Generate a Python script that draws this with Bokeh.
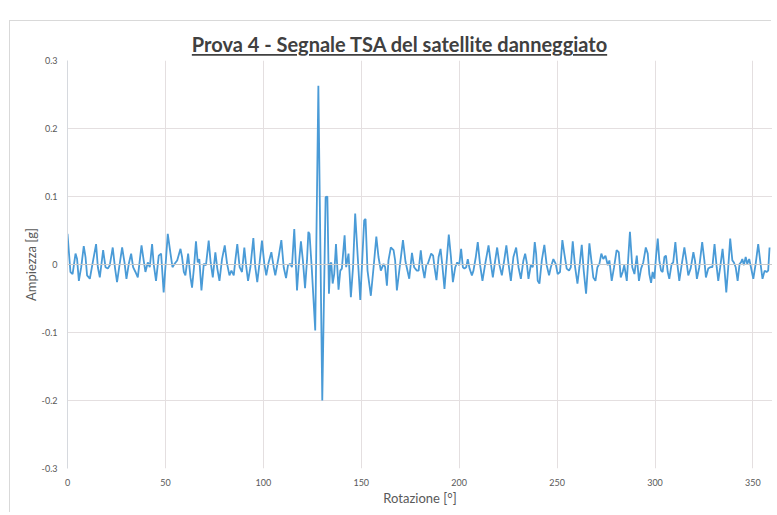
from bokeh.plotting import figure
from bokeh.models import Range1d, FixedTicker, Span, Div
from bokeh.layouts import column
from bokeh.embed import file_html
from bokeh.resources import INLINE

title_text = "Prova 4 - Segnale TSA del satellite danneggiato"
x_label = "Rotazione [°]"
y_label = "Ampiezza [g]"

x_ticks = [0, 50, 100, 150, 200, 250, 300, 350]
x_tick_labels = ["0", "50", "100", "150", "200", "250", "300", "350"]
y_ticks = [-0.3, -0.2, -0.1, 0.0, 0.1, 0.2, 0.3]
y_tick_labels = ["-0.3", "-0.2", "-0.1", "0", "0.1", "0.2", "0.3"]

rotation_deg = [
    0.0, 1.5, 2.6, 4.1, 4.9, 5.8, 7.0, 8.3, 9.2, 10.0, 11.4, 12.9, 14.6, 15.5, 16.5, 18.2, 19.4, 20.6, 21.6, 23.1,
    24.3, 25.3, 26.4, 27.9, 29.1, 30.1, 31.3, 32.5, 33.5, 34.7, 35.9, 37.8, 38.9, 39.8, 41.0, 42.0, 43.2, 44.0, 45.2, 46.6,
    47.8, 49.1, 51.2, 52.6, 53.6, 54.7, 56.0,
    57.7, 58.5, 59.4, 60.2, 61.6, 62.8, 63.6, 64.6, 65.6, 66.5, 67.3, 68.4, 69.6, 70.7, 72.1, 73.1, 74.2, 75.5, 76.5, 77.6,
    78.9, 80.3, 81.5, 82.7, 83.7, 84.9, 85.7, 86.7, 87.9, 89.1, 90.3, 91.3, 92.2, 93.4, 94.9, 95.9, 96.9, 98.1, 99.3, 100.5,
    101.5, 102.7, 104.1, 105.3, 106.1, 107.8, 109.2, 110.4, 111.6, 112.6, 113.8, 114.6, 115.8,
    117.2, 118.0, 119.2, 120.2, 121.3, 122.3, 123.0, 123.6, 124.8, 126.5, 128.1, 130.1, 131.8, 132.7, 133.5, 134.2, 134.7,
    135.4, 136.2, 137.1, 138.4, 139.3, 140.1, 141.5, 142.3, 143.5, 144.7, 145.8, 146.9, 149.5, 151.5, 152.2, 153.2, 154.9,
    156.3, 157.7, 158.8, 160.0, 161.4, 162.2, 163.1, 163.9, 165.1, 166.5, 167.3, 168.2,
    169.8, 171.3, 172.6, 174.5, 175.9, 177.0, 178.4, 179.3, 180.4, 181.3, 182.3, 183.2, 184.0, 185.7, 186.7, 187.4, 188.4,
    189.5, 190.5, 191.5, 192.5, 193.5, 194.7, 195.8, 196.8, 198.0, 199.0, 200.0, 201.0, 201.9, 202.7, 203.6, 204.4, 205.3,
    206.5, 207.3, 208.5, 209.5, 210.7, 211.9, 213.3, 215.0, 216.2, 217.2, 218.4, 219.4, 220.6, 221.8, 223.0, 224.1, 225.2,
    226.4, 227.7, 229.1, 230.3, 231.5, 232.8,
    233.7, 234.5, 235.4, 236.6, 237.6, 238.6, 239.3, 240.1, 241.0, 242.2, 243.5, 244.7, 245.9, 246.8, 248.1, 249.3, 250.3,
    251.5, 252.7, 253.7, 254.9, 256.1, 257.0, 258.0, 259.2, 260.4, 261.4, 262.6, 263.6, 264.8, 265.7, 266.5, 267.5, 268.5,
    269.6, 270.6, 271.6, 272.6, 273.6, 274.7, 275.9, 276.7, 277.9, 279.1, 280.4, 281.5, 282.5, 283.5, 284.3, 285.6, 287.2,
    288.4, 289.5, 290.7, 291.8,
    292.9, 294.0, 295.3, 296.3, 297.1, 298.0, 298.8, 299.7, 300.5, 301.4, 302.2, 303.1, 303.9, 304.8, 305.6, 306.5, 307.3,
    308.5, 309.3, 310.4, 311.4, 312.4, 313.6, 315.0, 316.0, 317.0, 318.2, 319.6, 320.4, 321.4, 322.6, 324.1, 325.2, 326.0,
    327.2, 328.2, 329.3, 330.4, 331.5, 332.3, 333.3, 334.5, 335.4, 336.4, 337.4, 338.4, 339.5, 340.3, 341.2, 342.2, 343.2,
    343.9, 344.6, 345.4, 346.3, 347.1, 348.1, 349.0, 350.2, 351.4, 352.7, 353.9, 354.9, 356.0, 357.0, 357.8, 358.5,
]

amplitude_g = [
    0.045, -0.011, -0.014, 0.016, 0.008, -0.024, -0.004, 0.027, 0.011, -0.016, -0.021, 0.003, 0.030, -0.004, -0.019, 0.021, -0.004, -0.006, -0.001, 0.025,
    -0.006, -0.026, -0.004, 0.025, 0.003, -0.021, 0.001, 0.016, -0.004, -0.011, -0.019, 0.028, 0.006, -0.011, 0.003, -0.004, 0.030, 0.001, -0.024, 0.013,
    0.016, -0.041, 0.045, 0.016, -0.004, 0.001, 0.006,
    0.023, 0.011, -0.011, -0.016, 0.016, -0.019, -0.034, -0.004, 0.034, 0.003, 0.008, -0.038, 0.001, -0.001, 0.035, 0.003, -0.019, 0.018, -0.006, -0.024,
    0.008, 0.028, 0.001, -0.016, -0.009, -0.016, 0.006, 0.030, -0.004, -0.011, 0.025, -0.004, -0.024, -0.004, 0.039, -0.004, -0.026, 0.003, 0.035, 0.001,
    -0.016, 0.003, 0.018, -0.004, -0.016, 0.011, 0.036, -0.004, -0.020, -0.001, 0.001, -0.004, 0.052,
    -0.038, -0.004, 0.034, 0.006, -0.035, 0.006, 0.048, 0.045, -0.009, -0.097, 0.263, -0.200, 0.099, 0.100, -0.043, 0.001, 0.003,
    -0.028, -0.014, 0.030, -0.037, -0.009, -0.006, 0.043, -0.004, 0.016, -0.048, -0.004, 0.075, -0.052, 0.065, 0.067, -0.009, -0.046,
    -0.004, 0.041, 0.011, -0.009, 0.001, -0.004, -0.031, 0.006, 0.025, 0.021, 0.006, -0.038,
    0.000, 0.036, 0.004, -0.021, 0.017, -0.004, -0.009, -0.009, 0.021, -0.004, -0.020, -0.001, 0.001, 0.016, 0.013, -0.004, -0.023,
    0.011, 0.023, -0.004, -0.036, 0.001, 0.044, 0.011, -0.026, -0.004, 0.003, -0.001, 0.023, -0.004, -0.006, -0.004, 0.008, -0.006,
    -0.016, -0.009, 0.011, 0.033, -0.001, -0.024, 0.001, 0.028, 0.001, -0.019, 0.006, 0.025, -0.001, -0.016, 0.006, 0.028, 0.001,
    -0.024, 0.011, 0.025, -0.004, -0.021, 0.006,
    0.016, 0.003, -0.021, -0.001, -0.004, 0.033, 0.016, -0.024, -0.028, 0.006, 0.029, -0.001, -0.016, -0.004, 0.008, 0.001, -0.014,
    -0.011, 0.036, 0.016, -0.006, -0.009, -0.004, 0.034, -0.004, -0.028, -0.004, 0.029, -0.009, -0.043, -0.004, 0.031, 0.006, -0.019,
    -0.024, -0.004, 0.001, 0.016, 0.008, 0.013, -0.001, 0.006, -0.024, -0.004, 0.021, 0.018, -0.019, -0.011, -0.001, -0.024, 0.048,
    -0.004, -0.014, 0.013, -0.024,
    -0.006, 0.003, 0.025, 0.016, -0.014, -0.027, -0.011, -0.021, 0.011, 0.038, 0.006, -0.009, -0.011, 0.011, 0.013, -0.011, -0.021,
    0.001, 0.003, 0.033, 0.001, -0.024, -0.001, 0.025, 0.006, -0.016, -0.006, 0.018, 0.006, -0.021, -0.004, 0.033, 0.006, -0.019,
    -0.006, -0.004, -0.004, 0.030, -0.004, -0.024, -0.004, 0.023, -0.004, -0.041, -0.004, 0.038, 0.006, 0.003, -0.004, -0.024, 0.001,
    0.003, 0.008, -0.001, 0.011, 0.001, 0.008, -0.004, -0.021, 0.001, 0.030, 0.001, -0.021, -0.009, -0.011, -0.009, 0.025,
]

x_min, x_max = 0, 360
y_min, y_max = -0.3, 0.3
zero_level = 0.0

TEXT_GREY = "#595959"
GRID = "#e4dfe0"
FONT = "Lato"

p = figure(
    width=762, height=458,
    output_backend="svg", toolbar_location=None,
    x_range=Range1d(x_min, x_max), y_range=Range1d(y_min, y_max),
    min_border_left=57, min_border_right=0, min_border_top=5, min_border_bottom=45,
    styles={"overflow": "hidden"},
)
p.outline_line_color = None
p.background_fill_color = "white"
p.border_fill_color = "white"

xt = FixedTicker(ticks=x_ticks)
yt = FixedTicker(ticks=y_ticks)
p.xaxis.ticker = xt
p.yaxis.ticker = yt
p.xgrid.ticker = xt
p.ygrid.ticker = yt
p.xaxis.major_label_overrides = dict(zip(x_ticks, x_tick_labels))
p.yaxis.major_label_overrides = dict(zip(y_ticks, y_tick_labels))

for ax in (p.xaxis[0], p.yaxis[0]):
    ax.major_tick_line_color = None
    ax.minor_tick_line_color = None
    ax.major_tick_out = 0
    ax.major_tick_in = 0
    ax.minor_tick_out = 0
    ax.minor_tick_in = 0
    ax.major_label_text_font = FONT
    ax.major_label_text_font_size = "9px"
    ax.major_label_text_color = TEXT_GREY
    ax.axis_label_text_font = FONT
    ax.axis_label_text_font_style = "normal"
    ax.axis_label_text_font_size = "13px"
    ax.axis_label_text_color = TEXT_GREY
    ax.major_label_standoff = 10

p.xaxis.axis_line_color = None
p.yaxis.axis_line_color = "#d6d9de"
p.xaxis.axis_label = x_label
p.yaxis.axis_label = y_label
p.xaxis.axis_label_standoff = 1
p.yaxis.axis_label_standoff = 0

p.xgrid.grid_line_color = GRID
p.ygrid.grid_line_color = GRID

p.add_layout(Span(location=zero_level, dimension="width", line_color="#c9c9c9", line_width=1))

p.line(rotation_deg, amplitude_g, line_color="#4a9bd7", line_width=1.8)

title_div = Div(
    text=(
        '<div style="display:block; width:762px; box-sizing:border-box; padding:11px 0 0 17px; '
        'margin:0; text-align:center; font-family:Lato; font-weight:bold; font-size:20px; '
        'line-height:24px; color:#404040; white-space:nowrap;">'
        '<span style="text-decoration:underline; text-decoration-thickness:1.5px; '
        f'text-underline-offset:2px;">{title_text}</span></div>'
    ),
    width=762, height=34, margin=0,
)

layout = column(title_div, p, margin=(21, 0, 0, 10), spacing=0,
                styles={"box-shadow": "-1px -1px 0 0 #d9d9d9", "overflow": "visible"})

open("out.html", "w").write(file_html(layout, INLINE))
